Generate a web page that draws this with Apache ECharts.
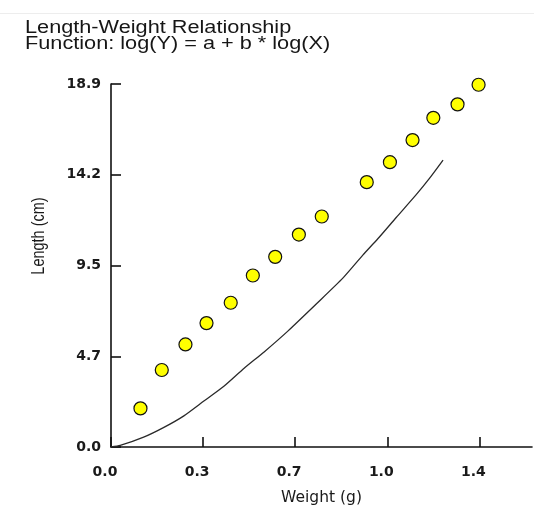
<!DOCTYPE html>
<html>
<head>
<meta charset="utf-8">
<script src="https://cdn.jsdelivr.net/npm/echarts@6/dist/echarts.min.js"></script>
<style>html,body{margin:0;padding:0;background:#fff;}#c{width:534px;height:511px;}</style>
</head>
<body>
<div id="c"></div>
<script>
const titleLines = ['Length-Weight Relationship', 'Function: log(Y) = a + b * log(X)'];
const xName = 'Weight (g)';
const yName = 'Length (cm)';
const xTickValues = [0, 0.35, 0.7, 1.05, 1.4];
const xTickLabels = ['0.0', '0.3', '0.7', '1.0', '1.4'];
const yTickValues = [0, 4.725, 9.45, 14.175, 18.9];
const yTickLabels = ['0.0', '4.7', '9.5', '14.2', '18.9'];
const observedX = [0.112, 0.193, 0.283, 0.363, 0.455, 0.539, 0.624, 0.714, 0.801, 0.972, 1.060, 1.146, 1.225, 1.317, 1.397];
const observedY = [2.01, 4.01, 5.34, 6.45, 7.51, 8.93, 9.90, 11.06, 12.00, 13.79, 14.83, 15.98, 17.14, 17.84, 18.86];
const fitX = [0, 0.035, 0.124, 0.201, 0.277, 0.353, 0.429, 0.506, 0.582, 0.671, 0.785, 0.881, 0.957, 1.014, 1.084, 1.160, 1.211, 1.262];
const fitY = [0, 0.08, 0.51, 1.02, 1.62, 2.39, 3.16, 4.10, 4.95, 6.02, 7.51, 8.79, 9.99, 10.84, 11.95, 13.14, 14.00, 14.94];

function labelFor(values, labels) {
  return function (v) {
    for (let i = 0; i < values.length; i++) {
      if (Math.abs(values[i] - v) < 1e-6) return labels[i];
    }
    return '';
  };
}

const chart = echarts.init(document.getElementById('c'), null, {renderer: 'canvas'});
const axisColor = '#111';
chart.setOption({
  animation: false,
  backgroundColor: '#fff',
  grid: {left: 111, right: 2, top: 84, bottom: 58, containLabel: false},
  xAxis: {
    type: 'value', min: 0, max: 1.6,
    name: xName, nameLocation: 'middle', nameGap: 43,
    nameTextStyle: {fontFamily: 'DejaVu Sans', fontSize: 15.5, color: '#1a1a1a'},
    axisLine: {show: true, onZero: false, lineStyle: {color: axisColor, width: 1.6}},
    axisTick: {show: true, inside: true, length: 10, customValues: xTickValues, lineStyle: {color: axisColor, width: 1.6}},
    axisLabel: {customValues: xTickValues, formatter: labelFor(xTickValues, xTickLabels), margin: 18,
      fontFamily: 'DejaVu Sans', fontWeight: 'bold', fontSize: 14, color: '#1a1a1a', padding: [0, 12, 0, 0]},
    splitLine: {show: false}
  },
  yAxis: {
    type: 'value', min: 0, max: 18.9,
    axisLine: {show: true, onZero: false, lineStyle: {color: axisColor, width: 1.6}},
    axisTick: {show: true, inside: true, length: 10, customValues: yTickValues, lineStyle: {color: axisColor, width: 1.6}},
    axisLabel: {customValues: yTickValues, formatter: labelFor(yTickValues, yTickLabels), margin: 10,
      fontFamily: 'DejaVu Sans', fontWeight: 'bold', fontSize: 14, color: '#1a1a1a', padding: [0, 0, 8, 0]},
    splitLine: {show: false}
  },
  graphic: [
    {type: 'line', shape: {x1: 0, y1: 13.5, x2: 534, y2: 13.5}, style: {stroke: '#ededed', lineWidth: 1}, silent: true},
    {type: 'text', x: 25, y: 20, scaleX: 1.24,
      style: {text: titleLines.join('\n'), fontFamily: 'Liberation Sans', fontSize: 17.5, lineHeight: 15.8,
        fill: '#161616', textVerticalAlign: 'top'}},
    {type: 'text', x: 39, y: 236, rotation: Math.PI / 2, scaleY: 1.3,
      style: {text: yName, fontFamily: 'Liberation Sans', fontSize: 14.5, fill: '#1a1a1a',
        textAlign: 'center', textVerticalAlign: 'middle'}}
  ],
  series: [
    {
      type: 'line', name: 'fit', data: fitX.map((x, i) => [x, fitY[i]]),
      smooth: 0.2, showSymbol: false, symbol: 'none',
      lineStyle: {color: '#2a2a2a', width: 1.3}, z: 2
    },
    {
      type: 'scatter', name: 'observed', data: observedX.map((x, i) => [x, observedY[i]]),
      symbol: 'circle', symbolSize: 13,
      itemStyle: {color: '#ffff00', borderColor: '#111', borderWidth: 1.2, opacity: 1}, z: 3
    }
  ]
});
</script>
</body>
</html>
